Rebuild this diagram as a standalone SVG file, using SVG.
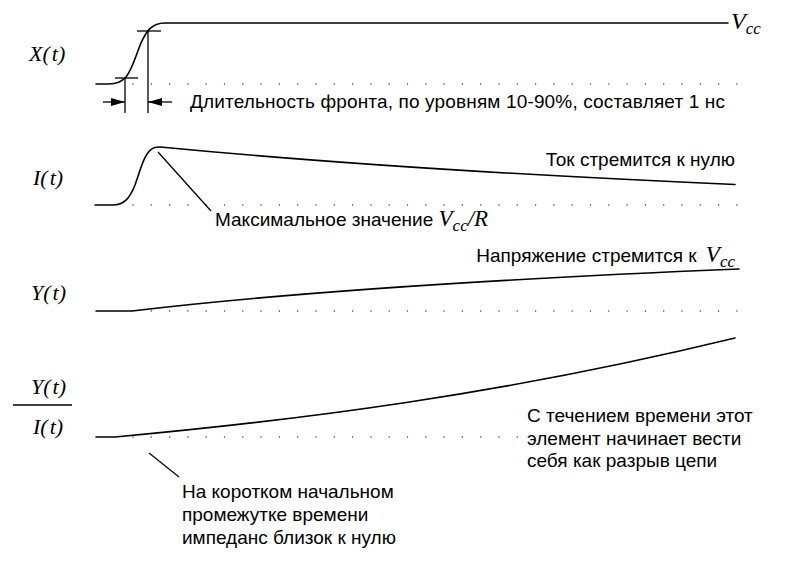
<svg xmlns="http://www.w3.org/2000/svg" width="795" height="565" viewBox="0 0 795 565">
<defs>
<style>
.curve{fill:none;stroke:#000;stroke-width:1.6;stroke-linecap:round;stroke-linejoin:round}
.thin{fill:none;stroke:#000;stroke-width:1.3}
.dots{fill:none;stroke:#555;stroke-width:1.3;stroke-dasharray:1.2 17.1}
.txt{font-family:"Liberation Sans",Arial,sans-serif;font-size:19px;fill:#000}
.math{font-family:"Liberation Serif","Times New Roman",serif;font-style:italic;fill:#000}
</style>
<marker id="arr" viewBox="0 0 14 8" refX="14" refY="4" markerWidth="14" markerHeight="8" markerUnits="userSpaceOnUse" orient="auto">
<path d="M0,0 L14,4 L0,8 Z" fill="#000"/>
</marker>
</defs>
<rect width="795" height="565" fill="#fff"/>

<g id="labels">
<text class="math" x="29" y="61" font-size="22">X(<tspan dx="2">t</tspan>)</text>
<text class="math" x="33" y="185" font-size="22">I(<tspan dx="2">t</tspan>)</text>
<text class="math" x="31" y="300" font-size="22">Y(<tspan dx="2">t</tspan>)</text>
<text class="math" x="31" y="394" font-size="22">Y(<tspan dx="2">t</tspan>)</text>
<line x1="13" y1="405" x2="72" y2="405" class="thin"/>
<text class="math" x="33" y="434" font-size="22">I(<tspan dx="2">t</tspan>)</text>
</g>

<g id="grid">
<line class="dots" x1="132.4" y1="84" x2="740" y2="84"/>
<line class="dots" x1="132.4" y1="205" x2="740" y2="205"/>
<line class="dots" x1="150.7" y1="311" x2="740" y2="311"/>
<line class="dots" x1="132.4" y1="437" x2="520" y2="437"/>
</g>

<g id="x-signal">
<path class="curve" d="M96,84 L108,84 C118,84 122,81 126,77 C132,70 136,55 141,43 C146,32 151,23 165,23 L728,23"/>
<line class="thin" x1="115" y1="78" x2="138" y2="78"/>
<line class="thin" x1="125" y1="78" x2="125" y2="113"/>
<line class="thin" x1="137" y1="31" x2="161" y2="31"/>
<line class="thin" x1="148" y1="31" x2="148" y2="113"/>
<line class="thin" x1="103" y1="102" x2="125" y2="102" marker-end="url(#arr)"/>
<line class="thin" x1="172" y1="102" x2="148" y2="102" marker-end="url(#arr)"/>
<text class="math" x="731" y="29" font-size="24">V<tspan font-size="17" dy="5">cc</tspan></text>
<text class="txt" x="190" y="108" textLength="535" lengthAdjust="spacing">Длительность фронта, по уровням 10-90%, составляет 1 нс</text>
</g>

<g id="i-signal">
<path class="curve" d="M95,205 L113,205 C124,205 130,198 135,185 C141,168 145,150 155,147.5 C158,146.8 161,147 163,147.2 Q400,170 735,184.5"/>
<line class="thin" x1="158" y1="152" x2="211" y2="211"/>
<text class="txt" x="215" y="226">Максимальное значение <tspan class="math" font-size="23">V</tspan><tspan class="math" font-size="17" dy="5">cc</tspan><tspan class="math" font-size="23" dy="-5">/R</tspan></text>
<text class="txt" x="735" y="166" text-anchor="end">Ток стремится к нулю</text>
</g>

<g id="y-signal">
<path class="curve" d="M96,311 L132,311 Q350,285 739,269"/>
<text class="txt" x="735" y="262" text-anchor="end">Напряжение стремится к <tspan class="math" font-size="23" dx="4">V</tspan><tspan class="math" font-size="17" dy="5">cc</tspan></text>
</g>

<g id="ratio-signal">
<path class="curve" d="M96,437 L115,437 C300,420 500,395 735,338"/>
<line class="thin" x1="149" y1="453" x2="179" y2="477"/>
<text class="txt" x="182" y="498">На коротком начальном</text>
<text class="txt" x="182" y="521">промежутке времени</text>
<text class="txt" x="182" y="544">импеданс близок к нулю</text>
<text class="txt" x="527" y="422">С течением времени этот</text>
<text class="txt" x="527" y="445">элемент начинает вести</text>
<text class="txt" x="527" y="467">себя как разрыв цепи</text>
</g>
</svg>
